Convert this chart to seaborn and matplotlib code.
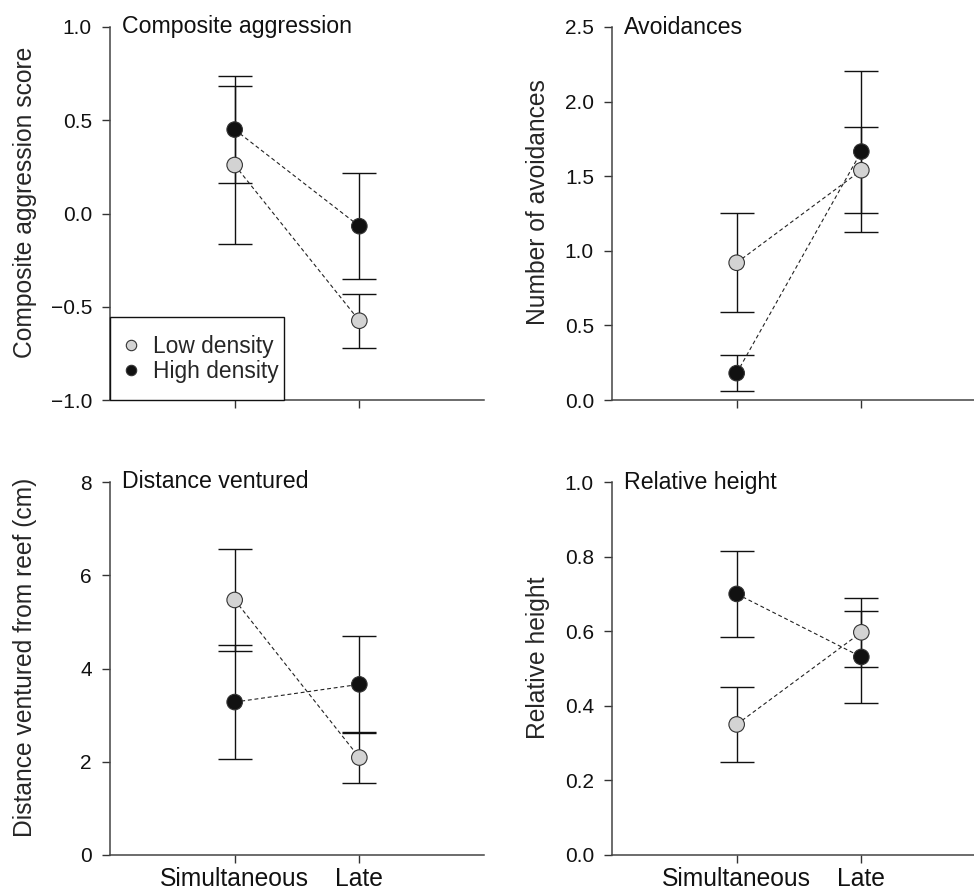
import pandas as pd
import matplotlib.pyplot as plt
import seaborn as sns
from matplotlib.lines import Line2D
from matplotlib.patches import Rectangle

# data (means and SE)
conditions = ["Simultaneous", "Late"]
groups = ["Low density", "High density"]

agg_low = [0.26, -0.575]
agg_low_se = [0.425, 0.144]
agg_high = [0.45, -0.068]
agg_high_se = [0.287, 0.285]

avoid_low = [0.92, 1.54]
avoid_low_se = [0.33, 0.29]
avoid_high = [0.18, 1.665]
avoid_high_se = [0.12, 0.54]

dist_low = [5.47, 2.09]
dist_low_se = [1.09, 0.54]
dist_high = [3.28, 3.66]
dist_high_se = [1.22, 1.04]

height_low = [0.35, 0.597]
height_low_se = [0.10, 0.092]
height_high = [0.70, 0.531]
height_high_se = [0.115, 0.123]

titles = ["Composite aggression", "Avoidances", "Distance ventured", "Relative height"]
ylabels = ["Composite aggression score", "Number of avoidances",
           "Distance ventured from reef (cm)", "Relative height"]
yticks = [[-1.0, -0.5, 0.0, 0.5, 1.0], [0.0, 0.5, 1.0, 1.5, 2.0, 2.5],
          [0, 2, 4, 6, 8], [0.0, 0.2, 0.4, 0.6, 0.8, 1.0]]
ytick_fmt = ["{:.1f}", "{:.1f}", "{:.0f}", "{:.1f}"]

panels = [
    (agg_low, agg_low_se, agg_high, agg_high_se),
    (avoid_low, avoid_low_se, avoid_high, avoid_high_se),
    (dist_low, dist_low_se, dist_high, dist_high_se),
    (height_low, height_low_se, height_high, height_high_se),
]

colors = {"Low density": "#d3d3d3", "High density": "#111111"}

sns.set_style("ticks")
plt.rcParams['font.family'] = ['Liberation Sans', 'DejaVu Sans']

fig = plt.figure(figsize=(9.74, 8.9), dpi=100)
W, H = 974, 890
ax_w, ax_h = 374, 373
lefts = [110, 612, 110, 612]
tops = [27, 27, 482, 482]
ylab_x = [-0.195, -0.166, -0.195, -0.166]

for i, (low, low_se, high, high_se) in enumerate(panels):
    ax = fig.add_axes([lefts[i] / W, 1 - (tops[i] + ax_h) / H, ax_w / W, ax_h / H])
    df = pd.DataFrame({
        "x": [0, 1, 0, 1],
        "y": low + high,
        "se": low_se + high_se,
        "group": [groups[0]] * 2 + [groups[1]] * 2,
    })
    for g in groups:
        d = df[df["group"] == g]
        ax.errorbar(d["x"], d["y"], yerr=d["se"], fmt="none", ecolor="#111111",
                    elinewidth=1.0, capsize=12.5, capthick=1.0, zorder=2)
        sns.lineplot(data=d, x="x", y="y", ax=ax, color="#222222", linewidth=0.8,
                     linestyle=(0, (3.5, 2.5)), zorder=3, legend=False)
    sns.scatterplot(data=df, x="x", y="y", hue="group", palette=colors, s=125,
                    edgecolor="#333333", linewidth=0.8, ax=ax, zorder=4, legend=False)

    ax.set_xlim(-1, 2)
    ax.set_ylim(yticks[i][0], yticks[i][-1])
    ax.set_xticks([0, 1])
    if i >= 2:
        ax.set_xticklabels(conditions, fontsize=17.7)
    else:
        ax.set_xticklabels([])
    ax.set_yticks(yticks[i])
    ax.set_yticklabels([ytick_fmt[i].format(v).replace("-", "\u2212") for v in yticks[i]],
                       fontsize=15)
    ax.set_xlabel("")
    ax.set_ylabel(ylabels[i], fontsize=17.7)
    ax.yaxis.set_label_coords(ylab_x[i], 0.53)
    ax.tick_params(direction="out", length=6, width=1, colors="#333333", pad=7)
    ax.tick_params(axis="x", pad=3)
    for lab in ax.get_xticklabels() + ax.get_yticklabels():
        lab.set_color("#111111")
    for s in ["top", "right"]:
        ax.spines[s].set_visible(False)
    for s in ["left", "bottom"]:
        ax.spines[s].set_color("#444444")
        ax.spines[s].set_linewidth(1.1)
    ax.text(0.032, 1.0, titles[i], transform=ax.transAxes, fontsize=16.7,
            va="center", ha="left", color="#111111")

    if i == 0:
        handles = [Line2D([], [], marker="o", linestyle="none", markersize=7.5,
                          markerfacecolor=colors[g], markeredgecolor="#333333",
                          markeredgewidth=0.8) for g in groups]
        leg = ax.legend(handles, groups, loc="lower left", bbox_to_anchor=(0, 0),
                        borderaxespad=0, frameon=False, fontsize=16.4,
                        handlelength=0.35, handletextpad=0.79, borderpad=0.75,
                        labelspacing=0.1)
        leg.set_zorder(6)
        # legend box drawn by hand (tighter on the right than the legend pad)
        ax.add_patch(Rectangle((0, 0), 174 / ax_w, 83 / ax_h, transform=ax.transAxes,
                               facecolor="white", edgecolor="#111111", linewidth=1.0,
                               zorder=5, clip_on=False))

fig.savefig("out.png", dpi=100)
